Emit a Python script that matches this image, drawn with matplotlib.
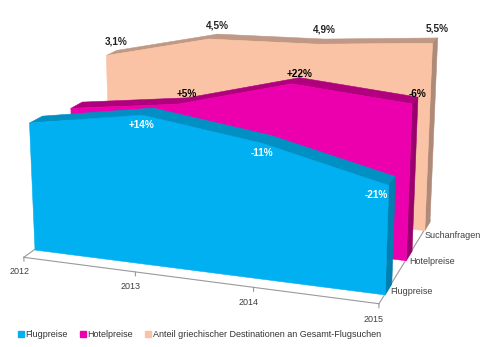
import numpy as np
import matplotlib
matplotlib.use('Agg')
import matplotlib.pyplot as plt
from matplotlib.lines import Line2D
from mpl_toolkits.mplot3d.art3d import Poly3DCollection

plt.rcParams['font.family'] = ['Liberation Sans', 'DejaVu Sans']

years = ['2012', '2013', '2014', '2015']
series = ['Flugpreise', 'Hotelpreise', 'Suchanfragen']
legend_labels = ['Flugpreise', 'Hotelpreise',
                 'Anteil griechischer Destinationen an Gesamt-Flugsuchen']
flug = [100, 114, 101.5, 80.2]
hotel = [94, 105, 128.1, 120.4]
such = [122, 142, 144, 151]
flug_labels = ['', '+14%', '-11%', '-21%']
hotel_labels = ['', '+5%', '+22%', '-6%']
such_labels = ['3,1%', '4,5%', '4,9%', '5,5%']

front_cols = ['#00B0F0', '#EC00AE', '#FAC3A6']
top_cols = ['#0090C4', '#B0007E', '#C09886']
side_cols = ['#0080B0', '#9A006E', '#B08A78']

W, H = 494, 347
fig = plt.figure(figsize=(W / 100, H / 100), dpi=100)
S = 500
cx, cy = 228, 146
ax = fig.add_axes([(cx - S / 2) / W, (H - cy - S / 2) / H, S / W, S / H],
                  projection='3d', computed_zorder=False)
ax.set_proj_type('persp', focal_length=0.5)
ax.view_init(elev=16, azim=-71)
ymin, ymax = -0.25, 2.35
ax.set_xlim(0, 3)
ax.set_ylim(ymin, ymax)
ax.set_zlim(0, 160)
ax.set_box_aspect((692, 462, 408), zoom=0.927)
ax.set_xticks([])
ax.set_yticks([])
ax.set_zticks([])
for t in (ax.title, ax._left_title, ax._right_title):
    t.set_visible(False)
for axis in (ax.xaxis, ax.yaxis, ax.zaxis):
    axis.label.set_visible(False)
    axis.offsetText.set_visible(False)
ax.set_axis_off()

xs = np.arange(len(years))
x_end = xs[-1]
thick = 0.3
gray = '#9a9a9a'

# floor edges
for xx, yy in [([0, x_end], [ymin, ymin]), ([x_end, x_end], [ymin, ymax]),
               ([0, 0], [ymin, ymax])]:
    ax.plot(xx, yy, [0, 0], color=gray, lw=0.8, clip_on=False, zorder=0.5)
for x in xs:
    ax.plot([x, x], [ymin, ymin], [0, -3], color=gray, lw=0.8, clip_on=False,
            zorder=0.5)
    ax.text(x - 0.04, ymin, -8.5, years[x], ha='center', va='top', fontsize=6.5,
            color='#404040', clip_on=False, zorder=5)

values = [flug, hotel, such]

def add_poly(verts, col):
    pc = Poly3DCollection([verts], facecolor=col, edgecolor=col, linewidth=0.4,
                          zorder=1)
    pc.set_clip_on(False)
    ax.add_collection3d(pc)

for k in [2, 1, 0]:
    v = values[k]
    y0, y1 = k, k + thick
    for i in range(len(xs) - 1):
        add_poly([(xs[i], y0, v[i]), (xs[i + 1], y0, v[i + 1]),
                  (xs[i + 1], y1, v[i + 1]), (xs[i], y1, v[i])], top_cols[k])
    add_poly([(x_end, y0, 0), (x_end, y0, v[-1]), (x_end, y1, v[-1]),
              (x_end, y1, 0)], side_cols[k])
    front = [(x, y0, z) for x, z in zip(xs, v)] + [(x_end, y0, 0), (0, y0, 0)]
    add_poly(front, front_cols[k])
    ax.text(x_end + 0.03, 0.1 + 0.87 * k, 0, series[k], ha='left', va='center',
            fontsize=6.5, color='#404040', clip_on=False, zorder=5)

for i in range(len(xs)):
    if such_labels[i]:
        ax.text(xs[i], 2 + thick, such[i] + 3, such_labels[i], ha='center',
                va='bottom', fontsize=7.2, fontweight='bold', color='#222222',
                zorder=5)
    if hotel_labels[i]:
        ax.text(xs[i], 1 + thick, hotel[i] - 1.5, hotel_labels[i], ha='center',
                va='bottom', fontsize=7.2, fontweight='bold', color='black',
                zorder=5)
    if flug_labels[i]:
        ax.text(xs[i], 0, flug[i] - 4, flug_labels[i],
                ha='right' if i == len(xs) - 1 else 'center',
                va='top', fontsize=7.2, fontweight='bold', color='white',
                zorder=5)

handles = [Line2D([], [], ls='none', marker='s', markersize=4,
                  markerfacecolor=c, markeredgecolor=c) for c in front_cols]
fig.legend(handles, legend_labels, loc='lower left', bbox_to_anchor=(0.02, 0.0),
           ncol=3, frameon=False, fontsize=6.5, handlelength=0.6,
           handletextpad=0.2, columnspacing=1.4, labelcolor='#333333')

fig.savefig('out.png', dpi=100)
